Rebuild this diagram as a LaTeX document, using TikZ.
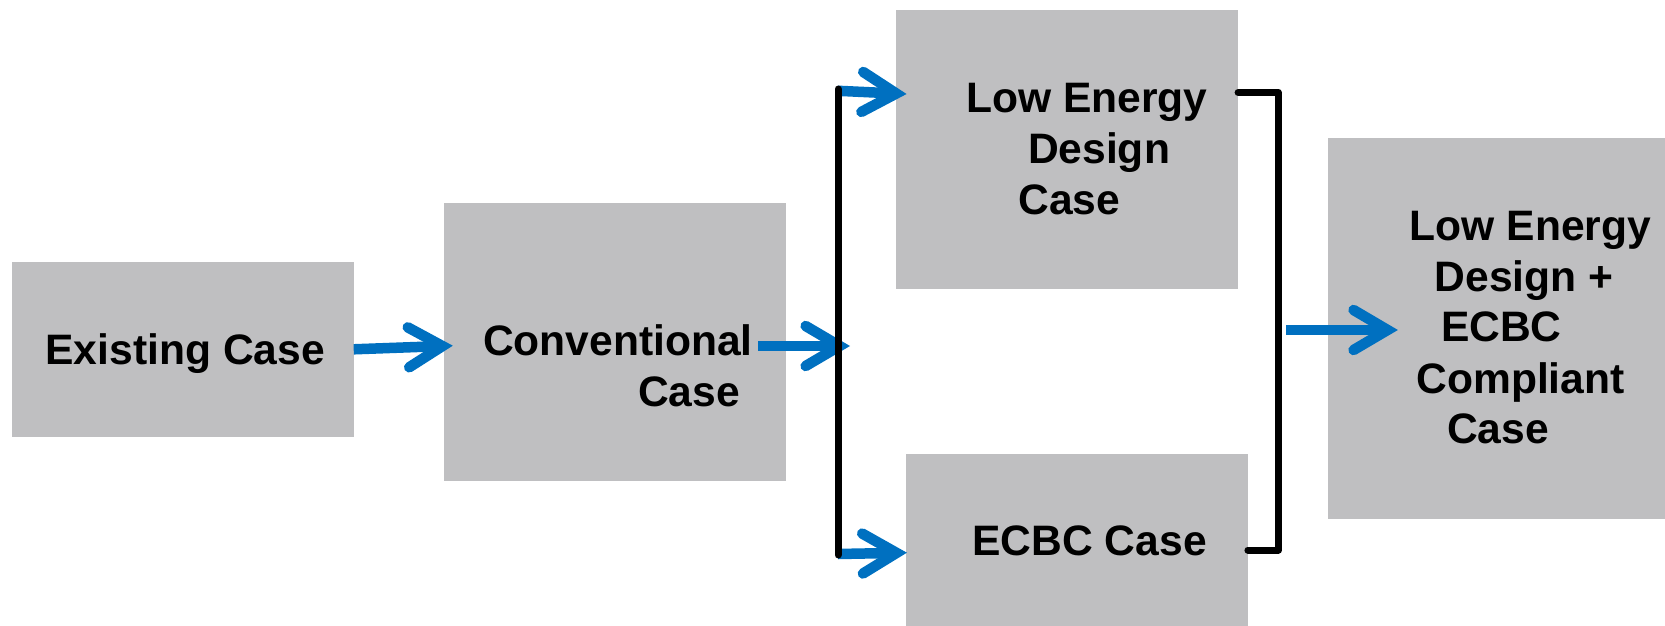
\documentclass[tikz,border=0pt]{standalone}
\usepackage{fontspec}
\setmainfont{Liberation Sans}
\usetikzlibrary{arrows.meta,calc}
\definecolor{boxgray}{RGB}{191,191,193}
\definecolor{arrblue}{RGB}{0,112,192}
\begin{document}
\begin{tikzpicture}[x=1pt,y=-1pt,
  box/.style={fill=boxgray, draw=none, inner sep=0pt, outer sep=0pt},
  txt/.style={anchor=base west, inner sep=0pt, outer sep=0pt, font=\fontsize{42.6}{51}\selectfont\bfseries},
  arr/.style={draw=arrblue, line width=10.5pt, line cap=butt,
    -{Straight Barb[length=34pt, width=40pt, line cap=round, line join=miter]}},
  brk/.style={draw=black, line width=7pt, line cap=round, line join=round}]
\useasboundingbox (0,0) rectangle (1665,626);

% boxes
\node[box, minimum width=342pt, minimum height=175pt] (exist) at (182.7,349.3) {};
\node[box, minimum width=342pt, minimum height=278pt] (conv) at (614.8,341.5) {};
\node[box, minimum width=342pt, minimum height=279pt] (lowe) at (1067.1,149.3) {};
\node[box, minimum width=342pt, minimum height=172pt] (ecbc) at (1076.9,540) {};
\node[box, minimum width=337pt, minimum height=381pt] (final) at (1496.7,328.8) {};

% texts
\node[txt] (t1) at (45.5,364.3) {Existing Case};
\node[txt] (t2a) at (483,355.7) {Conventional};
\node[txt] (t2b) at (638,406.7) {Case};
\node[txt] (t3a) at (966,112.3) {Low Energy};
\node[txt] (t3b) at (1028,163) {Design};
\node[txt] (t3c) at (1018.5,214.3) {Case};
\node[txt] (t4) at (972.5,555) {ECBC Case};
\node[txt] (t5a) at (1409.8,240) {Low Energy};
\node[txt] (t5b) at (1434.8,291.7) {Design +};
\node[txt] (t5c) at (1441,341.7) {ECBC};
\node[txt] (t5d) at (1416.4,393.3) {Compliant};
\node[txt] (t5e) at (1447,443.3) {Case};

% junction coordinates
\coordinate (lt) at (838,89);
\coordinate (lb) at (838,555);
\coordinate (ltop) at (838,90.8);
\coordinate (lbot) at (838,554);
\coordinate (lmid) at (850,346);
\coordinate (rt) at (1278.3,92.5);
\coordinate (rb) at (1278.3,550);
\coordinate (rmid) at (1286,330);

% blue arrows
\draw[arr] (exist.east) -- ($(conv.west)+(9,4.2)$);
\draw[arr] ($(conv.east)+(-27.7,4.5)$) -- (lmid);
\draw[arr] (ltop) -- ($(lowe.west)+(10.5,-55.3)$);
\draw[arr] (lbot) -- ($(ecbc.west)+(1,12.7)$);
\draw[arr] (rmid) -- ($(final.west)+(69.7,1.2)$);

% black brackets
\draw[brk] (lt) -- (lb);
\draw[brk] (lowe.east |- rt) -- (rt) -- (rb) -- (ecbc.east |- rb);
\end{tikzpicture}
\end{document}
